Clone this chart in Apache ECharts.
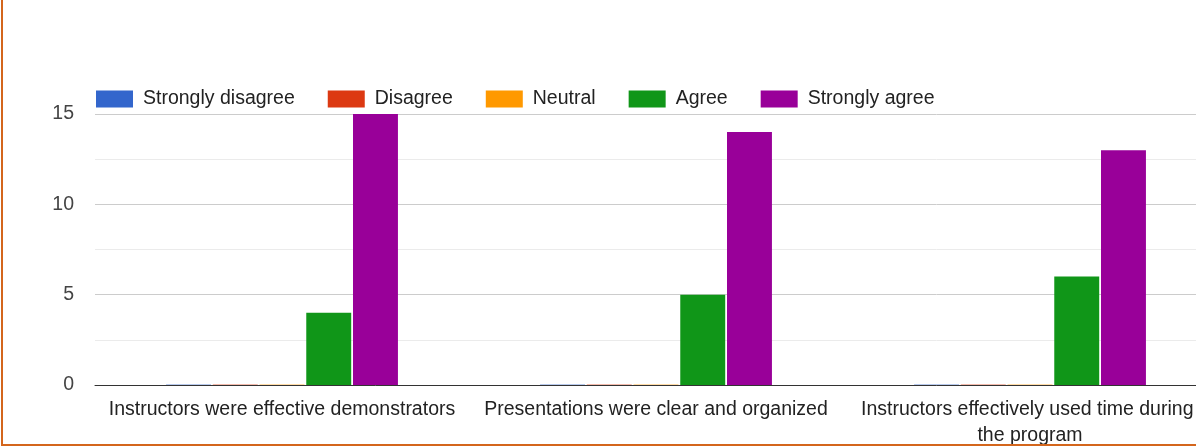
<!DOCTYPE html>
<html><head><meta charset="utf-8">
<script src="https://cdn.jsdelivr.net/npm/echarts@6/dist/echarts.min.js"></script>
<style>
html,body{margin:0;padding:0;background:#fff;overflow:hidden;}
#wrap{position:absolute;left:0;top:0;width:1196px;height:447px;overflow:hidden;}
#chart{position:absolute;left:0;top:0;width:1218px;height:447px;}
#frame{position:absolute;left:1px;top:-4px;width:1300px;height:450px;border-left:2px solid #d4661c;border-bottom:2px solid #d4661c;box-sizing:border-box;pointer-events:none;}
</style></head>
<body>
<div id="wrap"><div id="chart"></div><div id="frame"></div></div>
<script>
const categories = ["Instructors were effective demonstrators", "Presentations were clear and organized", "Instructors effectively used time during the program"];
const seriesNames = ["Strongly disagree", "Disagree", "Neutral", "Agree", "Strongly agree"];
const stronglyDisagree = [0, 0, 0];
const disagree = [0, 0, 0];
const neutral = [0, 0, 0];
const agree = [4, 5, 6];
const stronglyAgree = [15, 14, 13];
const colors = ["#3366cc", "#dc3912", "#ff9900", "#109618", "#990099"];
const yTicks = [0, 5, 10, 15];

const FONT = '"Liberation Sans", Arial, sans-serif';
const values = [stronglyDisagree, disagree, neutral, agree, stronglyAgree];
const chart = echarts.init(document.getElementById('chart'), null, {renderer:'canvas'});
chart.setOption({
  animation:false,
  textStyle:{fontFamily:FONT},
  color: colors,
  legend:{
    left: 91, top: 84, itemWidth: 37, itemHeight: 17, itemGap: 33,
    icon:'rect',
    textStyle:{fontSize:19.5,color:'#222', fontFamily:FONT, padding:[0,0,0,5]},
    data: seriesNames.map((n,i)=>({name:n, itemStyle:{color:colors[i], opacity:1}}))
  },
  grid:{left:95, right:1, top:114, bottom:62, containLabel:false, outerBoundsMode:'none'},
  xAxis:{
    type:'category', data:categories,
    axisTick:{show:false},
    axisLine:{lineStyle:{color:'#333', width:1}},
    axisLabel:{interval:0, fontSize:19.5, color:'#222', margin:12, width:352, overflow:'break', lineHeight:26, fontFamily:FONT}
  },
  yAxis:{
    type:'value', min:yTicks[0], max:yTicks[yTicks.length-1], interval:5,
    axisLine:{show:false}, axisTick:{show:false},
    axisLabel:{fontSize:19.5, color:'#444', margin:21, fontFamily:FONT},
    splitLine:{lineStyle:{color:'#cccccc'}},
    minorTick:{show:false, splitNumber:2},
    minorSplitLine:{show:true, lineStyle:{color:'#ebebeb'}}
  },
  series: seriesNames.map((n,i)=>({
    name:n, type:'bar', data: values[i],
    barGap:'4%', barCategoryGap:'38%',
    barMinHeight: i < 3 ? 1 : 0,
    itemStyle:{color:colors[i], opacity: i < 3 ? 0.35 : 1}
  }))
});
</script>
</body></html>
